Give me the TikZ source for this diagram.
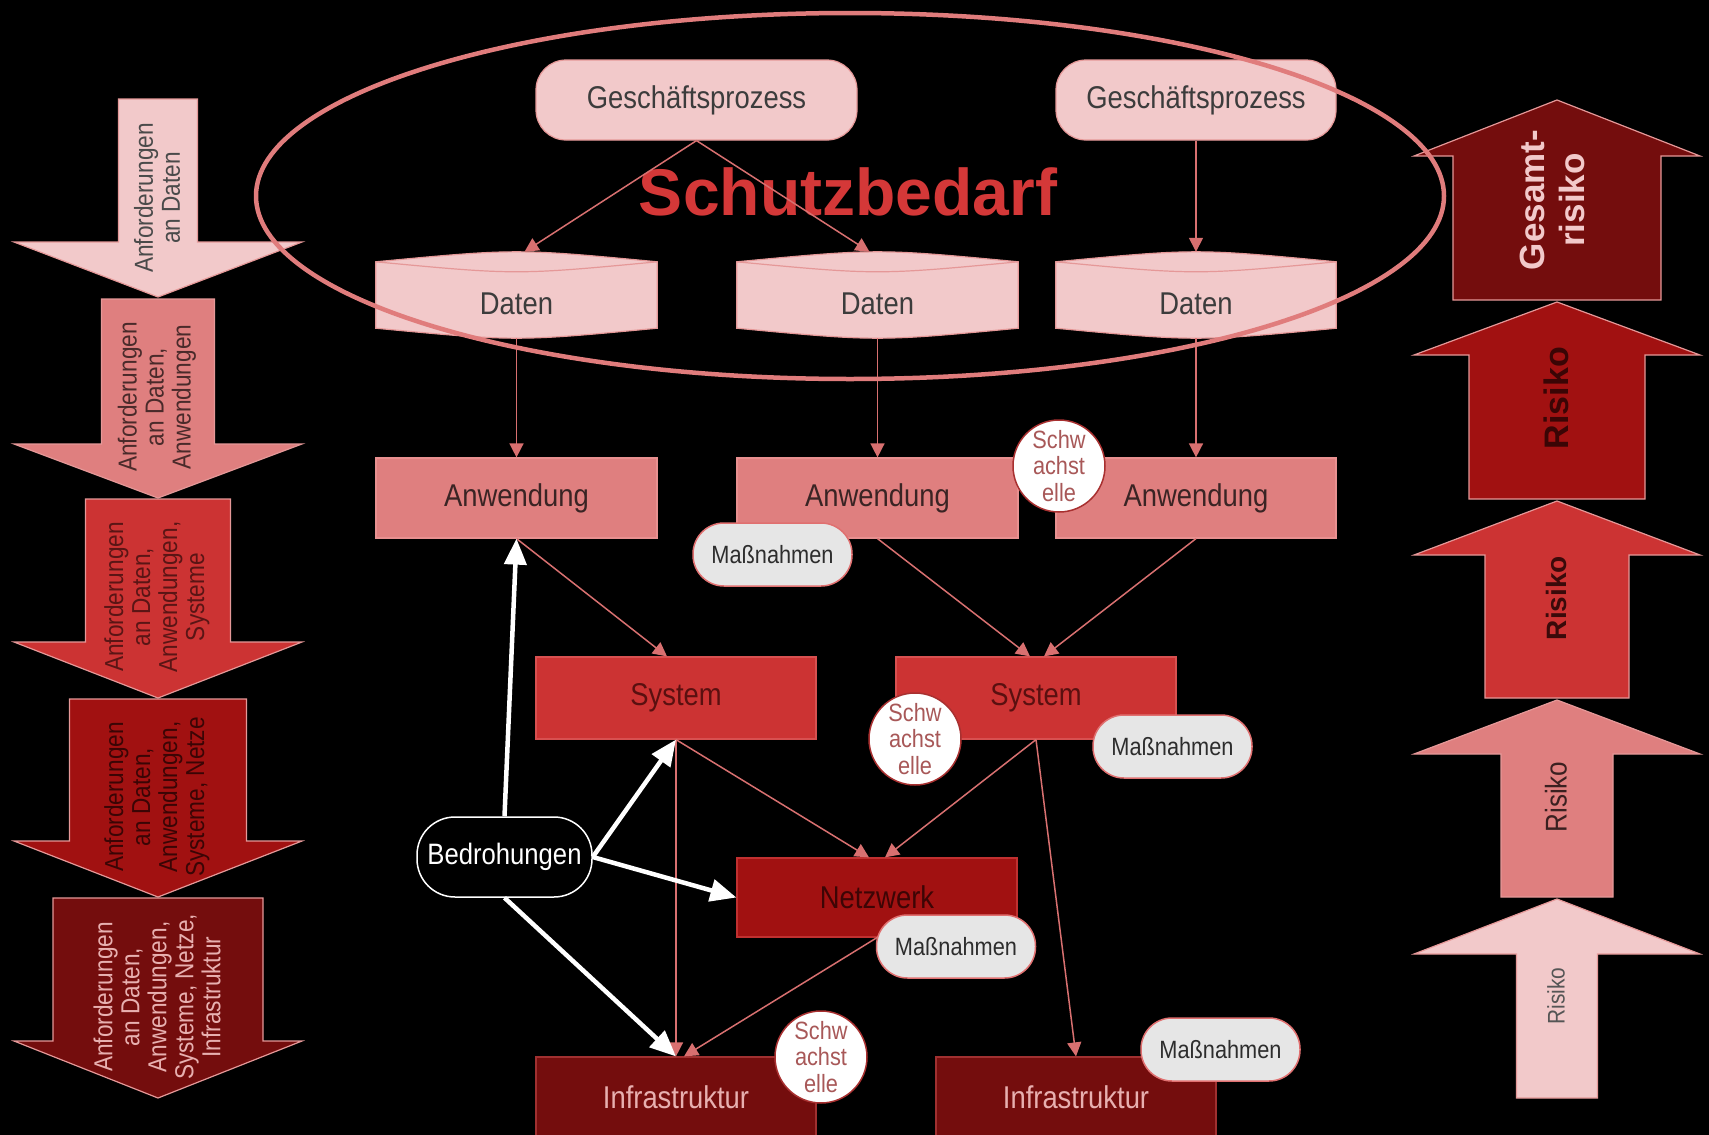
\documentclass[tikz,border=0pt]{standalone}
\usepackage{fontspec}
\setmainfont{Liberation Sans}
\newfontfamily\cf[FakeStretch=0.87]{Liberation Sans}
\usetikzlibrary{arrows.meta,calc}
\definecolor{cA}{HTML}{F2C9CA}
\definecolor{cB}{HTML}{DF7F7F}
\definecolor{cC}{HTML}{CC3333}
\definecolor{cD}{HTML}{A11111}
\definecolor{cE}{HTML}{740D0D}
\definecolor{outl}{HTML}{E59898}
\definecolor{lnk}{HTML}{D87070}
\definecolor{ellc}{HTML}{E07C7C}
\definecolor{sbred}{HTML}{D43838}
\definecolor{tgray}{HTML}{3C3C3C}
\definecolor{schw}{HTML}{A85858}
\definecolor{mgray}{HTML}{E6E6E6}
\definecolor{aline}{HTML}{E89090}
\definecolor{atext}{HTML}{3A2424}
\definecolor{sline}{HTML}{D85050}
\definecolor{stext}{HTML}{5A1010}
\definecolor{nline}{HTML}{C03030}
\definecolor{ntext}{HTML}{3D0505}
\definecolor{iline}{HTML}{A03030}
\definecolor{itext}{HTML}{E8B0B0}
\definecolor{mline}{HTML}{E07070}
\definecolor{mtext}{HTML}{2D2D2D}
\definecolor{wline}{HTML}{A83030}
\definecolor{tla}{HTML}{4A4A4A}
\definecolor{tlb}{HTML}{4A2A2A}
\definecolor{tlc}{HTML}{5A1515}
\definecolor{tld}{HTML}{3A0505}
\definecolor{tra}{HTML}{3A0505}
\definecolor{trb}{HTML}{3A0A0A}
\definecolor{trc}{HTML}{3A2020}
\definecolor{trd}{HTML}{555555}
\newcommand\mkblockarrow[8]{%
  \draw[fill=#7,draw=#8,line width=1.2pt] ({#1-#3},#2) -- ({#1+#3},#2) -- ({#1+#3},#4) -- ({#1+#5},#4) -- (#1,#6) -- ({#1-#5},#4) -- ({#1-#3},#4) -- cycle;}
\newcommand\datenshape[1]{%
  \draw[fill=cA,draw=outl,line width=1.2pt]
    ($(#1.north west)+(0,10)$) .. controls ($(#1.north)+(0,-3.3)$) .. ($(#1.north east)+(0,10)$)
    -- ($(#1.south east)+(0,-10)$) .. controls ($(#1.south)+(0,3.3)$) .. ($(#1.south west)+(0,-10)$) -- cycle;
  \draw[draw=outl,line width=1.2pt]
    ($(#1.north west)+(0,10)$) .. controls ($(#1.north)+(0,23.3)$) .. ($(#1.north east)+(0,10)$);}
\begin{document}
\begin{tikzpicture}[x=1pt,y=-1pt,
  mainfont/.style={font=\cf\fontsize{31.5}{34}\selectfont},
  gpbox/.style={mainfont,rectangle,rounded corners=30pt,minimum height=80pt,inner sep=0pt,fill=cA,draw=outl,line width=1.2pt,text=tgray},
  dbox/.style={rectangle,minimum width=281pt,minimum height=86pt,inner sep=0pt},
  dtext/.style={mainfont,text=tgray,inner sep=0pt},
  abox/.style={mainfont,rectangle,minimum width=281pt,minimum height=80pt,inner sep=0pt,fill=cB,draw=aline,line width=1.2pt,text=atext},
  sbox/.style={mainfont,rectangle,minimum width=280pt,minimum height=82pt,inner sep=0pt,fill=cC,draw=sline,line width=1.2pt,text=stext},
  nbox/.style={mainfont,rectangle,minimum width=280pt,minimum height=79pt,inner sep=0pt,fill=cD,draw=nline,line width=1.2pt,text=ntext},
  ibox/.style={mainfont,rectangle,minimum width=280pt,minimum height=80pt,inner sep=0pt,fill=cE,draw=iline,line width=1.2pt,text=itext},
  bbox/.style={font=\cf\fontsize{29.5}{32}\selectfont,rectangle,rounded corners=38pt,minimum width=175pt,minimum height=80pt,inner sep=0pt,fill=black,draw=white,line width=1.5pt,text=white},
  mpill/.style={font=\cf\fontsize{25}{27}\selectfont,rectangle,rounded corners=31pt,minimum width=159pt,minimum height=63pt,inner sep=0pt,fill=mgray,draw=mline,line width=1.5pt,text=mtext},
  wcirc/.style={font=\cf\fontsize{25}{26.5}\selectfont,circle,minimum size=92pt,inner sep=0pt,fill=white,draw=wline,line width=1.5pt,text=schw,align=center},
  ltext/.style={font=\cf\fontsize{26}{27}\selectfont,rotate=90,align=center,inner sep=0pt},
  lnkarr/.style={draw=lnk,line width=1.5pt,-{Triangle[length=14pt,width=14pt]}},
  warr/.style={draw=white,line width=4.5pt,-{Triangle[length=26pt,width=22pt]}}
]
\useasboundingbox (0,0) rectangle (1709,1135);
\fill[black] (0,0) rectangle (1709,1135);
\clip (0,0) rectangle (1709,1135);
% left block arrows
\mkblockarrow{158}{99}{39.5}{242}{144}{297}{cA}{outl}
\mkblockarrow{158}{299}{56.5}{444}{144}{498}{cB}{outl}
\mkblockarrow{158}{499}{72.5}{642}{144}{698}{cC}{outl}
\mkblockarrow{158}{699}{88.5}{841}{144}{897}{cD}{outl}
\mkblockarrow{158}{898}{105}{1041}{144}{1098}{cE}{outl}
\node[ltext,text=tla] (la1) at (157,198) {Anforderungen\\an Daten};
\node[ltext,text=tlb] (la2) at (157,397) {Anforderungen\\an Daten,\\Anwendungen};
\node[ltext,text=tlc] (la3) at (157,597) {Anforderungen\\an Daten,\\Anwendungen,\\Systeme};
\node[ltext,text=tld] (la4) at (157,797) {Anforderungen\\an Daten,\\Anwendungen,\\Systeme, Netze};
\node[ltext,text=itext] (la5) at (157,997) {Anforderungen\\an Daten,\\Anwendungen,\\Systeme, Netze,\\Infrastruktur};
% right block arrows
\mkblockarrow{1557}{300}{104}{156}{143}{100}{cE}{outl}
\mkblockarrow{1557}{499}{88}{355}{143}{302}{cD}{outl}
\mkblockarrow{1557}{698}{72}{555}{143}{501}{cC}{outl}
\mkblockarrow{1557}{897}{56}{754}{143}{700}{cB}{outl}
\mkblockarrow{1557}{1098}{40.5}{954}{143}{899}{cA}{outl}
\node[rotate=90,align=center,inner sep=0pt,font=\bfseries\fontsize{35}{40}\selectfont,text=cA] (ra1) at (1552,200) {Gesamt-\\risiko};
\node[rotate=90,inner sep=0pt,font=\bfseries\fontsize{34}{36}\selectfont,text=tra] (ra2) at (1556,398) {Risiko};
\node[rotate=90,inner sep=0pt,font=\bfseries\fontsize{28}{30}\selectfont,text=trb] (ra3) at (1556,598) {Risiko};
\node[rotate=90,inner sep=0pt,font=\cf\fontsize{30}{32}\selectfont,text=trc] (ra4) at (1556,797) {Risiko};
\node[rotate=90,inner sep=0pt,font=\cf\fontsize{24}{26}\selectfont,text=trd] (ra5) at (1556,996) {Risiko};
% title
\node[anchor=base,inner sep=0pt,font=\bfseries\fontsize{66}{70}\selectfont,text=sbred] (sb) at (848,215) {Schutzbedarf};
% main boxes
\node[gpbox,minimum width=321pt] (g1) at (696.5,100) {Geschäftsprozess};
\node[gpbox,minimum width=280pt] (g2) at (1196,100) {Geschäftsprozess};
\node[dbox] (d1) at (516.5,295) {};
\node[dbox] (d2) at (877.5,295) {};
\node[dbox,minimum width=280pt] (d3) at (1196,295) {};
\datenshape{d1}
\datenshape{d2}
\datenshape{d3}
\node[dtext] (d1t) at (516.5,304) {Daten};
\node[dtext] (d2t) at (877.5,304) {Daten};
\node[dtext] (d3t) at (1196,304) {Daten};
\node[abox] (a1) at (516.5,498) {Anwendung};
\node[abox] (a2) at (877.5,498) {Anwendung};
\node[abox,minimum width=280pt] (a3) at (1196,498) {Anwendung};
\node[sbox] (s1) at (676,698) {System};
\node[sbox] (s2) at (1036,698) {System};
\node[nbox] (n) at (877,897.5) {Netzwerk};
\node[ibox] (i1) at (676,1097) {Infrastruktur};
\node[ibox] (i2) at (1076,1097) {Infrastruktur};
\node[bbox] (b) at (504.5,857) {Bedrohungen};
% pink connectors
\draw[lnkarr] (g1.south) -- ($(d1.north)+(8,0)$);
\draw[lnkarr] (g1.south) -- ($(d2.north)+(-8,0)$);
\draw[lnkarr] (g2.south) -- (d3.north);
\draw[lnkarr] (d1.south) -- (a1.north);
\draw[lnkarr] (d2.south) -- (a2.north);
\draw[lnkarr] (d3.south) -- (a3.north);
\draw[lnkarr] (a1.south) -- ($(s1.north)+(-9,0)$);
\draw[lnkarr] (a2.south) -- ($(s2.north)+(-6,0)$);
\draw[lnkarr] (a3.south) -- ($(s2.north)+(8,0)$);
\draw[lnkarr] (s1.south) -- ($(n.north)+(-8,0)$);
\draw[lnkarr] (s2.south) -- ($(n.north)+(8,0)$);
\draw[lnkarr] (s1.south) -- (i1.north);
\draw[lnkarr] (n.south) -- ($(i1.north)+(8,0)$);
\draw[lnkarr] (s2.south) -- (i2.north);
% threat arrows
\draw[warr] (b.north) -- (a1.south);
\draw[warr] (b.east) -- (s1.south);
\draw[warr] (b.east) -- (n.west);
\draw[warr] (b.south) -- (i1.north);
% measures and weak points
\node[mpill] (m1) at (772.5,554.5) {Maßnahmen};
\node[mpill] (m2) at (1172.5,746.5) {Maßnahmen};
\node[mpill] (m3) at (956,946.5) {Maßnahmen};
\node[mpill] (m4) at (1220.5,1049.5) {Maßnahmen};
\node[wcirc] (w1) at (1059,466) {Schw\\achst\\elle};
\node[wcirc] (w2) at (915,739) {Schw\\achst\\elle};
\node[wcirc] (w3) at (821,1057) {Schw\\achst\\elle};
% protection need ellipse
\draw[draw=ellc,line width=4.5pt] (850,196) ellipse [x radius=594pt, y radius=183pt];
\end{tikzpicture}
\end{document}
